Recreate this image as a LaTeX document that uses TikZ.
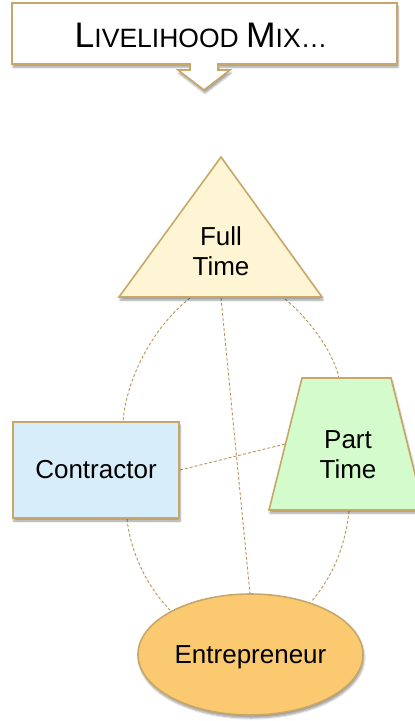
\documentclass[tikz,border=0pt]{standalone}
\usepackage{fontspec}
\setmainfont{Liberation Sans}
\usetikzlibrary{shadows.blur,shapes.geometric}
\definecolor{tanline}{RGB}{199,168,104}
\definecolor{dashc}{RGB}{184,150,90}
\definecolor{ftfill}{RGB}{253,245,211}
\definecolor{cofill}{RGB}{215,238,250}
\definecolor{ptfill}{RGB}{211,251,203}
\definecolor{enfill}{RGB}{250,201,112}
\begin{document}
\begin{tikzpicture}[x=1pt,y=-1pt,
  shapebox/.style={draw=tanline, line width=1.6pt, line join=miter,
    blur shadow={shadow xshift=1pt, shadow yshift=-3pt, shadow blur steps=6, shadow opacity=40}},
  link/.style={draw=dashc, line width=0.9pt, dash pattern=on 3pt off 2pt},
  lbl/.style={font=\fontsize{26}{30}\selectfont, align=center, text=black, inner sep=0pt}]
\useasboundingbox (0,0) rectangle (415,721);
\clip (0,0) rectangle (415,721);
% connection points
\coordinate (ftL) at (190,298);
\coordinate (ftC) at (221,298);
\coordinate (ftR) at (285,299);
\coordinate (coT) at (123,422);
\coordinate (coB) at (127,519);
\coordinate (coR) at (180,470);
\coordinate (ptT) at (339,378);
\coordinate (ptL) at (285,444);
\coordinate (ptB) at (349,511);
\coordinate (enL) at (170,610);
\coordinate (enT) at (250,594);
\coordinate (enR) at (311,602);
% connectors
\draw[link] (ftL) .. controls (152,328) and (126,380) .. (coT);
\draw[link] (ftR) .. controls (306,316) and (333,350) .. (ptT);
\draw[link] (coB) .. controls (131,556) and (150,590) .. (enL);
\draw[link] (ptB) .. controls (345,550) and (330,580) .. (enR);
\draw[link] (ftC) -- (enT);
\draw[link] (coR) -- (ptL);
% title callout
\path[shapebox, fill=white] (12,3) -- (397,3) -- (397,64) -- (218,64) -- (218,70) -- (230,70)
  -- (204,90) -- (178,70) -- (190,70) -- (190,64) -- (12,64) -- cycle;
\node[text=black, inner sep=0pt] (title) at (201,35)
  {\fontsize{35.5}{40}\selectfont L\fontsize{26.5}{30}\selectfont IVELIHOOD \fontsize{35.5}{40}\selectfont M\fontsize{26.5}{30}\selectfont IX\ldots};
% Full Time triangle
\path[shapebox, fill=ftfill] (221,157) -- (322,297) -- (119,297) -- cycle;
\node[lbl] (ft) at (221,251) {Full\\Time};
% Contractor
\node[shapebox, fill=cofill, minimum width=166pt, minimum height=96pt, inner sep=0pt] (co) at (96,470) {};
\node[lbl] (colbl) at (96,470) {Contractor};
% Part Time trapezoid
\path[shapebox, fill=ptfill] (302,378) -- (391,378) -- (424,510) -- (269,510) -- cycle;
\node[lbl] (pt) at (348,455) {Part\\Time};
% Entrepreneur ellipse
\node[shapebox, ellipse, fill=enfill, minimum width=225pt, minimum height=121pt, inner sep=0pt] (en) at (250.5,654.5) {};
\node[lbl] (enlbl) at (250.5,657) {Entrepreneur};
\end{tikzpicture}
\end{document}
